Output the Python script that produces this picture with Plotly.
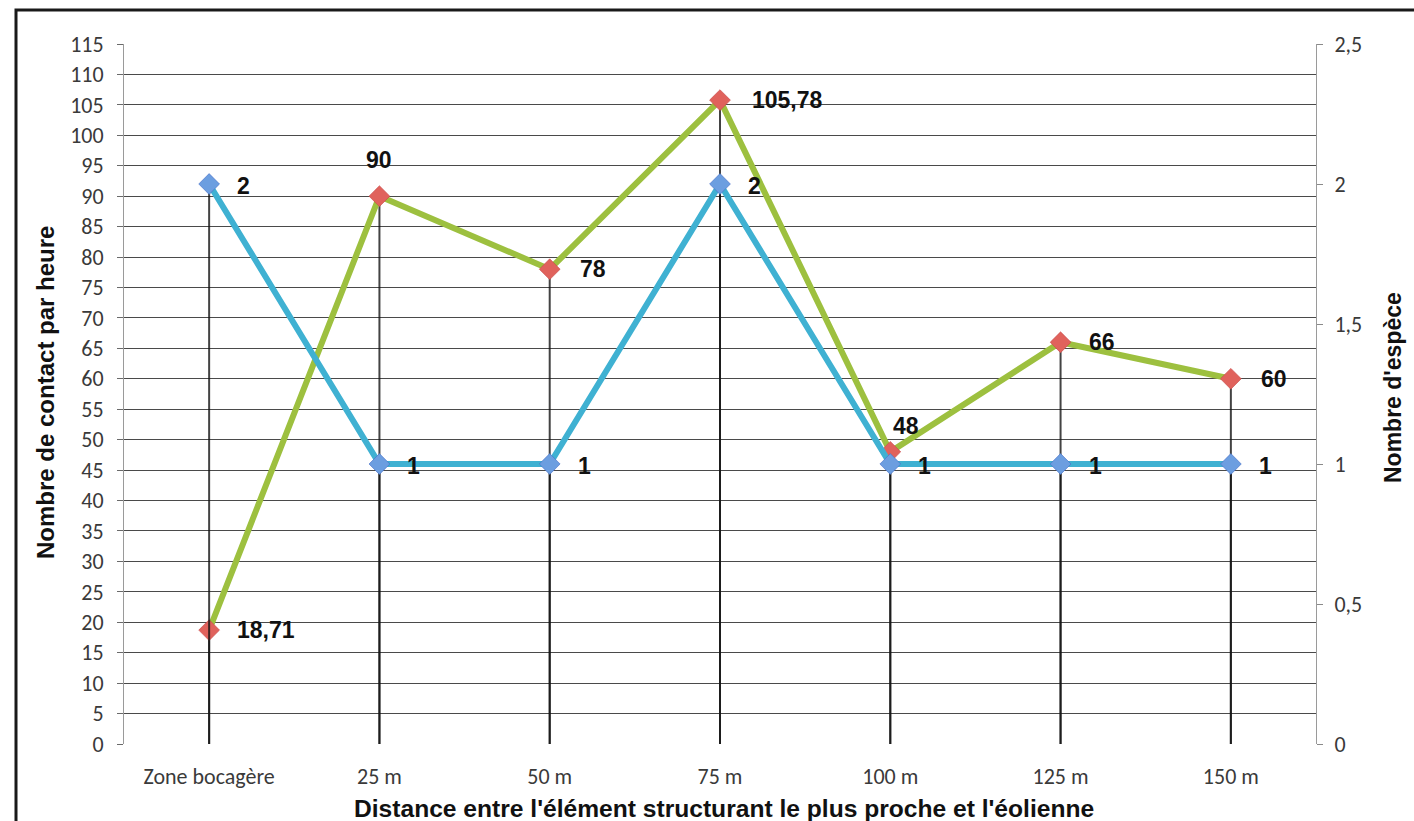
import plotly.graph_objects as go

categories = ["Zone bocagère", "25 m", "50 m", "75 m", "100 m", "125 m", "150 m"]
contacts_per_hour = [18.71, 90, 78, 105.78, 48, 66, 60]
species_count = [2, 1, 1, 2, 1, 1, 1]
contacts_labels = ["18,71", "90", "78", "105,78", "48", "66", "60"]
species_labels = ["2", "1", "1", "2", "1", "1", "1"]

left_ticks = list(range(0, 116, 5))
right_ticks = [0, 0.5, 1, 1.5, 2, 2.5]

# label placement (style): (xanchor, xshift, yshift)
contact_label_pos = [("left", 26, 0), ("center", 0, 36), ("left", 28, 0), ("left", 30, 0),
                     ("center", 16, 26), ("left", 26, 0), ("left", 28, 0)]
species_label_pos = [("left", 26, -2)] * 7

GREEN = "#9DC03F"
BLUE = "#3FB1D2"
RED = "#E0625C"
BLUEM = "#6C9EE0"
TICKFONT = dict(family="Carlito, Calibri, Lato, sans-serif", size=22, color="#3a3a3a")
BOLD = "Liberation Sans, Arial, sans-serif"

L, R, T, B = 124, 98, 44, 77
W, H = 1414, 821
PW, PH = W - L - R, H - T - B

fig = go.Figure()


def drop_xy(vals):
    xs, ys = [], []
    for c, v in zip(categories, vals):
        xs += [c, c, None]
        ys += [v, 0, None]
    return xs, ys


gx, gy = drop_xy(contacts_per_hour)
fig.add_trace(go.Scatter(x=gx, y=gy, mode="lines", line=dict(color="rgba(20,20,20,0.8)", width=2),
                         hoverinfo="skip", showlegend=False, yaxis="y"))
fig.add_trace(go.Scatter(x=categories, y=contacts_per_hour, mode="lines+markers",
                         line=dict(color=GREEN, width=6),
                         marker=dict(symbol="diamond", size=16, color=RED,
                                     line=dict(color="rgba(200,70,70,0.6)", width=1)),
                         name="Nombre de contact par heure", showlegend=False, yaxis="y"))
bx, by = drop_xy(species_count)
fig.add_trace(go.Scatter(x=bx, y=by, mode="lines", line=dict(color="rgba(20,20,20,0.8)", width=2),
                         hoverinfo="skip", showlegend=False, yaxis="y2"))
fig.add_trace(go.Scatter(x=categories, y=species_count, mode="lines+markers",
                         line=dict(color=BLUE, width=6),
                         marker=dict(symbol="diamond", size=16, color=BLUEM,
                                     line=dict(color="rgba(70,110,200,0.6)", width=1)),
                         name="Nombre d'espèce", showlegend=False, yaxis="y2"))

LABELFONT = dict(family=BOLD, size=23, color="#111111", weight="bold")
annotations = []
for c, v, t, (xa, xs, ys) in zip(categories, contacts_per_hour, contacts_labels, contact_label_pos):
    annotations.append(dict(x=c, y=v, xref="x", yref="y", text=t, showarrow=False,
                            xanchor=xa, yanchor="middle", xshift=xs, yshift=ys, font=LABELFONT))
for c, v, t, (xa, xs, ys) in zip(categories, species_count, species_labels, species_label_pos):
    annotations.append(dict(x=c, y=v, xref="x", yref="y2", text=t, showarrow=False,
                            xanchor=xa, yanchor="middle", xshift=xs, yshift=ys, font=LABELFONT))


def px(xp):
    return (xp - L) / PW


def py(yp):
    return (H - B - yp) / PH


annotations += [
    dict(x=px(724), y=py(808), xref="paper", yref="paper", showarrow=False,
         text="Distance entre l'élément structurant le plus proche et l'éolienne",
         font=dict(family=BOLD, size=24.6, color="#111111", weight="bold"), xanchor="center", yanchor="middle"),
    dict(x=px(45), y=py(393), xref="paper", yref="paper", showarrow=False, textangle=-90,
         text="Nombre de contact par heure",
         font=dict(family=BOLD, size=24, color="#111111", weight="bold"), xanchor="center", yanchor="middle"),
    dict(x=px(1393), y=py(388), xref="paper", yref="paper", showarrow=False, textangle=-90,
         text="Nombre d'espèce",
         font=dict(family=BOLD, size=23, color="#111111", weight="bold"), xanchor="center", yanchor="middle"),
]

fig.update_layout(
    width=W, height=H,
    margin=dict(l=L, r=R, t=T, b=B),
    paper_bgcolor="white", plot_bgcolor="white",
    separators=",.",
    showlegend=False,
    annotations=annotations,
    xaxis=dict(type="category", categoryorder="array", categoryarray=categories,
               range=[-0.5, 6.5], showgrid=False, zeroline=False,
               showline=False, ticks="", tickfont=TICKFONT, ticklabelstandoff=17),
    yaxis=dict(range=[0, 115], tickvals=left_ticks, showgrid=True, gridcolor="#4a4a4a", gridwidth=1.2,
               zeroline=False, showline=True, linecolor="#9a9a9a", linewidth=1,
               ticks="outside", ticklen=6, tickcolor="#6a6a6a", tickfont=TICKFONT,
               ticklabelstandoff=9),
    yaxis2=dict(range=[0, 2.5], tickvals=right_ticks, overlaying="y", side="right",
                showgrid=False, zeroline=False, showline=True, linecolor="#9a9a9a", linewidth=1,
                ticks="outside", ticklen=6, tickcolor="#8a8a8a", tickfont=TICKFONT,
                ticklabelstandoff=7),
    shapes=[dict(type="rect", xref="paper", yref="paper", x0=px(16), x1=1.3, y0=-0.3, y1=py(10),
                 line=dict(color="#1a1a1a", width=3), fillcolor="rgba(0,0,0,0)", layer="below")],
)

fig.write_html("out.html", config={"displayModeBar": False},
               post_script="document.body.style.margin='0px';document.body.style.overflow='hidden';")
